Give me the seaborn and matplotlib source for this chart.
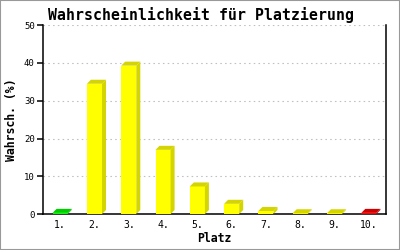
import matplotlib
matplotlib.use("Agg")
import matplotlib.pyplot as plt
import matplotlib.transforms as mtransforms
from matplotlib.patches import Polygon, Rectangle
import seaborn as sns
import pandas as pd

places = ["1.", "2.", "3.", "4.", "5.", "6.", "7.", "8.", "9.", "10."]
probabilities = [0.3, 34.5, 39.3, 17.0, 7.3, 2.7, 0.8, 0.2, 0.2, 0.3]
front_colors = ["#00ff00"] + ["#ffff00"] * 8 + ["#ff0000"]
dark_colors = ["#00cc00"] + ["#d4d400"] * 8 + ["#cc0000"]
y_ticks = [0, 10, 20, 30, 40, 50]

sns.set_theme(style="white")
plt.rcParams["font.family"] = ["DejaVu Sans Mono", "DejaVu Sans"]
plt.rcParams["text.color"] = "black"
plt.rcParams["axes.labelcolor"] = "black"
plt.rcParams["xtick.color"] = "black"
plt.rcParams["ytick.color"] = "black"

df = pd.DataFrame({"Platz": places, "Wahrsch": probabilities})

fig = plt.figure(figsize=(4, 2.5), dpi=100)
ax = fig.add_axes([0.1075, 0.144, 0.8575, 0.755])

sns.barplot(data=df, x="Platz", y="Wahrsch", hue="Platz", palette=front_colors,
            width=0.44, legend=False, ax=ax, saturation=1, linewidth=0, zorder=3)

ax.set_ylim(0, 50)
ax.set_xlim(-0.5, len(places) - 0.5)
ax.set_yticks(y_ticks)
ax.set_axisbelow(True)
ax.yaxis.grid(True, color="#c0c0c0", linestyle=(0, (1.4, 2.9)), linewidth=0.8)
ax.xaxis.grid(False)

for s in ["left", "bottom", "right"]:
    ax.spines[s].set_visible(True)
    ax.spines[s].set_color("black")
    ax.spines[s].set_linewidth(1.1)
ax.spines["top"].set_visible(False)

ax.tick_params(axis="y", direction="out", length=4, width=1.1, color="black",
               labelsize=6.5, labelcolor="black", pad=2, left=True)
ax.tick_params(axis="x", length=0, labelsize=7, labelcolor="black", pad=4)

ax.set_title("Wahrscheinlichkeit für Platzierung", fontsize=10.7, fontweight="bold",
             pad=4, x=0.46, color="black")
ax.set_ylabel("Wahrsch. (%)", fontsize=8.3, fontweight="bold", labelpad=4, color="black")
ax.set_xlabel("Platz", fontsize=8.3, fontweight="bold", labelpad=2, color="black")

# 3D depth: side and top faces drawn from the bars' own geometry
fig.canvas.draw()
dx, dy = 4, 4
ident = mtransforms.IdentityTransform()
for patch, dark in zip(ax.patches[:len(places)], dark_colors):
    x0, y0 = patch.get_x(), patch.get_y()
    x1, y1 = x0 + patch.get_width(), y0 + patch.get_height()
    (px0, py0), (px1, py1) = ax.transData.transform([(x0, y0), (x1, y1)])
    top = Polygon([(px0, py1), (px1, py1), (px1 + dx, py1 + dy), (px0 + dx, py1 + dy)],
                  closed=True, facecolor=dark, edgecolor="none", transform=ident, zorder=2.5)
    side = Polygon([(px1, py0), (px1 + dx, py0 + dy), (px1 + dx, py1 + dy), (px1, py1)],
                   closed=True, facecolor=dark, edgecolor="none", transform=ident, zorder=2.5)
    fig.add_artist(top)
    fig.add_artist(side)

fig.add_artist(Rectangle((0, 0), 1, 1, transform=fig.transFigure, fill=False,
                         edgecolor="#999999", linewidth=1.5, clip_on=False))

fig.savefig("out.png", dpi=100)
